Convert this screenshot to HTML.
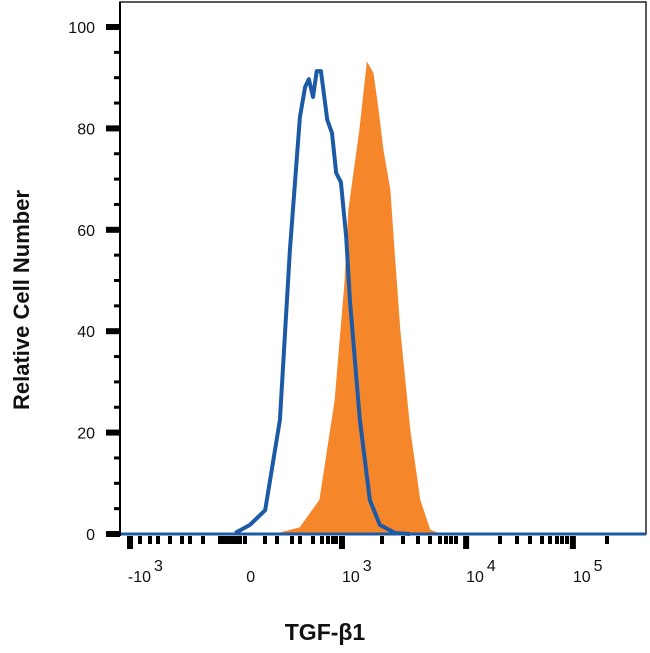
<!DOCTYPE html>
<html><head><meta charset="utf-8"><style>
body{margin:0;background:#fff;}
svg{display:block;font-family:"Liberation Sans",sans-serif;}
</style></head><body>
<svg id="chart" width="650" height="653" viewBox="0 0 650 653"></svg>
<script>
const blueX=[219,247,276,304,323,342,352,359,367,374,382,394,403,411,420,430,437,456,475,494,523,551];
const blueY=[0.2,1.8,4.7,22.5,56,82.2,88.2,89.7,86.2,91.3,91.3,81.7,79.1,71.2,69.4,58.6,46.2,22.5,6.7,1.8,0.2,0];
const orangeX=[266,304,342,380,409,428,435,456,470,481,490,500,513,521,532,551,570,589,608];
const orangeY=[0,0.2,1.2,6.7,26.4,50,63.9,79.7,92.9,90.9,84.2,75.7,67.9,56,40.2,20.5,6.7,0.8,0];
const yTicks=[0,20,40,60,80,100];
const yMinor=[5,10,15,25,30,35,45,50,55,65,70,75,85,90,95];
const xMajor=[19,422,658,861];
const xLabelPos=[15,240,422,658,861];
const xLabelBase=["-10","0","10","10","10"];
const xLabelExp=["3","","3","4","5"];
const xMinorPx=[140,150,158,170,182,190,203,220,224,228,232,236,240,245,265,277,292,300,313,322,328,333,336,382,403,418,430,440,446,451,456,500,517,530,542,550,557,562,567,607];
const NS="http://www.w3.org/2000/svg";
const svg=document.getElementById('chart');
const L=120,R=646,T=2,B=534;
const xs=c=>L+c/1000*(R-L);
const ys=v=>B-v*5.07;
function mk(t,a,p){const e=document.createElementNS(NS,t);for(const k in a)e.setAttribute(k,a[k]);(p||svg).appendChild(e);return e;}
const frame=mk('rect',{x:L,y:T,width:R-L,height:B-T,fill:'none',stroke:'#222','stroke-width':1.5});


let d='M'+xs(orangeX[0])+','+ys(0);
orangeX.forEach((c,i)=>{d+=' L'+xs(c)+','+ys(orangeY[i]);});
d+=' Z';
const of=mk('path',{d:d,fill:'#f5862a',stroke:'#f5862a','stroke-width':1});


const bl=mk('line',{x1:L,x2:R,y1:B,y2:B,stroke:'#1d5aa6','stroke-width':3});


let pts=blueX.map((c,i)=>xs(c)+','+ys(blueY[i])).join(' ');
const bp=mk('polyline',{points:pts,fill:'none',stroke:'#1d5aa6','stroke-width':4,'stroke-linejoin':'round'});


const ya=mk('line',{x1:L,x2:L,y1:T,y2:B+2,stroke:'#000','stroke-width':2});


yTicks.forEach(v=>{
  const t=mk('rect',{x:106,y:ys(v)-3,width:14,height:6,fill:'#000'});
  
  
  const tx=mk('text',{x:95,y:ys(v)+6,'text-anchor':'end','font-size':16,fill:'#111'});
  tx.textContent=v;
  
  
});
yMinor.forEach(v=>{
  const t=mk('rect',{x:114,y:ys(v)-1.5,width:6,height:3,fill:'#000'});
  
  
});
xMajor.forEach(c=>{
  const t=mk('rect',{x:xs(c)-3,y:B+2,width:6,height:13,fill:'#000'});
  
  
});
xMinorPx.forEach(p=>{
  const t=mk('rect',{x:p-2,y:B+2,width:4,height:8,fill:'#000'});
  
  
});
xLabelPos.forEach((c,i)=>{
  const g=mk('text',{x:xs(c),y:582,'text-anchor':'start','font-size':16,fill:'#111'});
  
  
  g.textContent=xLabelBase[i];
  if(xLabelExp[i]){const s=mk('tspan',{dx:3,dy:-11,'font-size':16},g);s.textContent=xLabelExp[i];}
});
const xt=mk('text',{x:325,y:640,'text-anchor':'middle','font-size':23,'font-weight':'bold',fill:'#111'});
xt.textContent='TGF-β1';


const yt=mk('text',{x:0,y:0,transform:'translate(29,300) rotate(-90)','text-anchor':'middle','font-size':22,'font-weight':'bold',fill:'#111'});
yt.textContent='Relative Cell Number';


</script>
</body></html>
